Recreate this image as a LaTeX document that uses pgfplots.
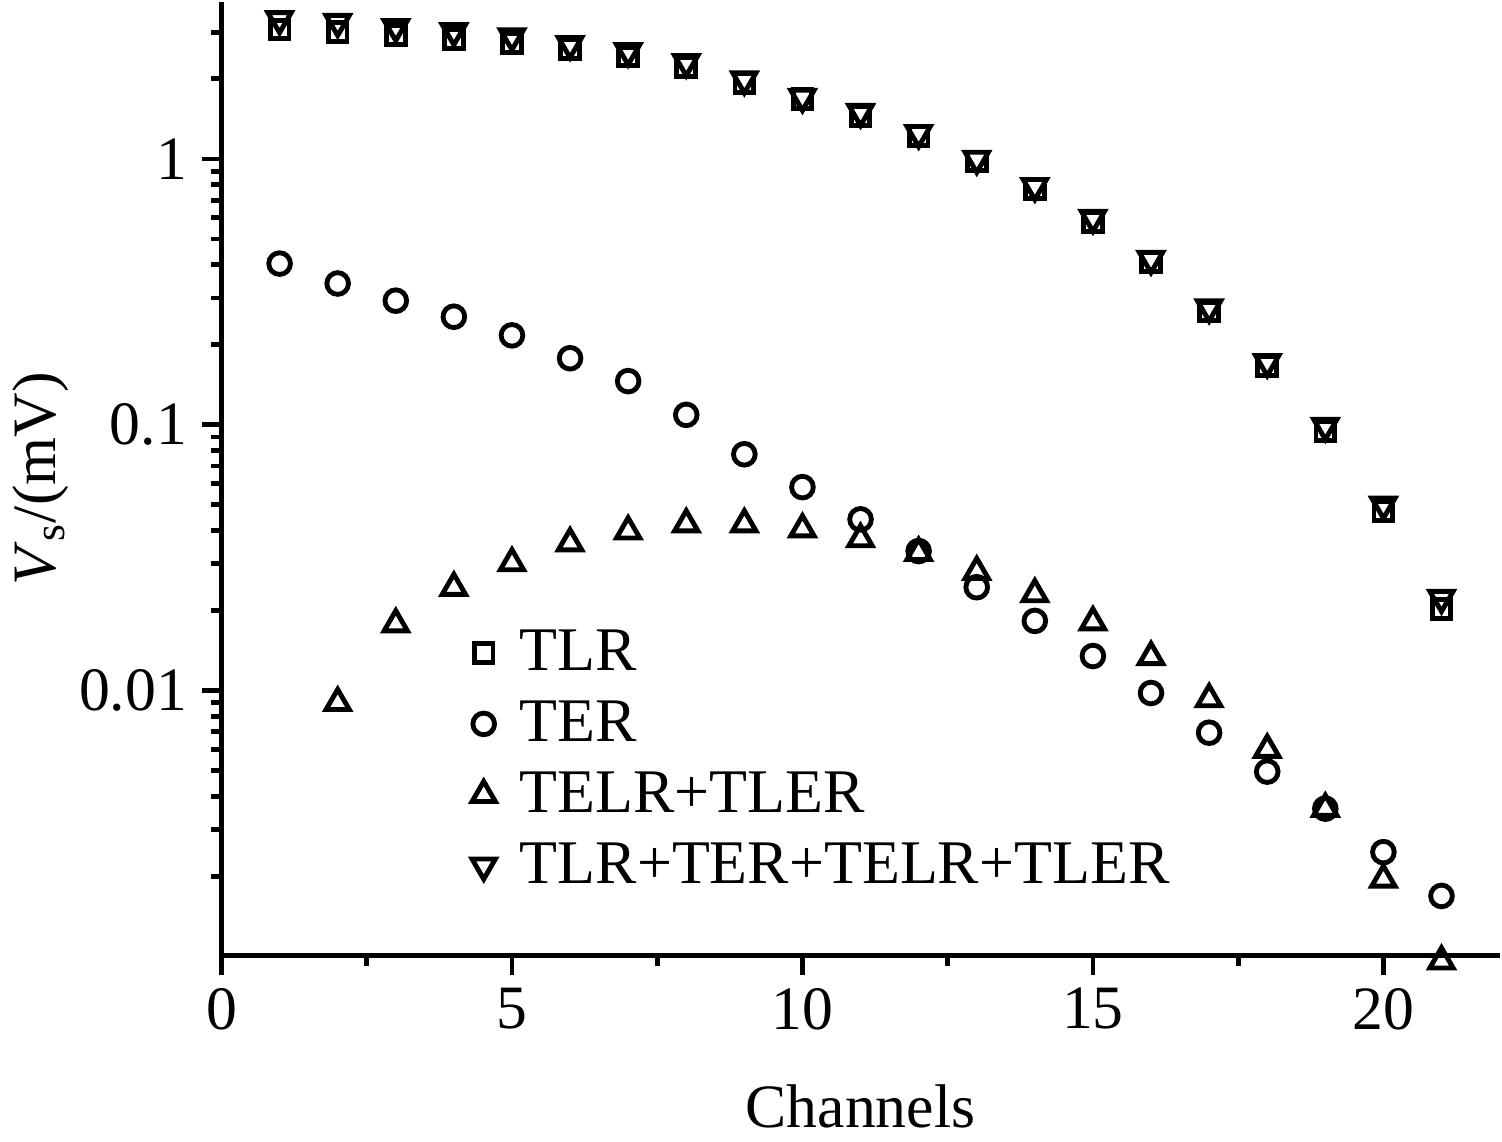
\documentclass[border=0pt]{standalone}
\usepackage{fontspec}
\setmainfont{Liberation Serif}
\usepackage{pgfplots}
\pgfplotsset{compat=1.18}

\pgfplotstableread{
ch TLR TER TELR SUM
1 3.07 0.404 nan 3.35
2 3.00 0.340 0.0090 3.27
3 2.92 0.293 0.0178 3.13
4 2.82 0.255 0.0244 3.02
5 2.72 0.217 0.0302 2.89
6 2.59 0.178 0.0359 2.70
7 2.43 0.146 0.0398 2.54
8 2.21 0.109 0.0423 2.31
9 1.93 0.0775 0.0423 1.99
10 1.68 0.0583 0.0405 1.71
11 1.45 0.0441 0.0372 1.50
12 1.22 0.0335 0.0330 1.25
13 0.98 0.0245 0.0280 1.00
14 0.77 0.0183 0.0231 0.79
15 0.58 0.0135 0.0181 0.60
16 0.41 0.0098 0.0134 0.42
17 0.267 0.00695 0.0093 0.276
18 0.166 0.00496 0.0060 0.172
19 0.0946 0.0036 0.0036 0.099
20 0.0473 0.00247 0.00195 0.050
21 0.0203 0.00169 0.00096 0.0223
}\data

\begin{document}
\begin{tikzpicture}
\begin{axis}[
    ymode=log,
    width=342pt, height=255pt,
    scale only axis,
    xmin=0, xmax=22,
    ymin=0.00101, ymax=3.88,
    clip=false,
    axis x line*=bottom,
    axis y line*=left,
    axis line style={line width=1.3pt},
    xtick={0,5,10,15,20},
    minor xtick={2.5,7.5,12.5,17.5},
    ytick={0.01,0.1,1},
    yticklabels={0.01,0.1,1},
    minor ytick={0.002,0.003,0.004,0.005,0.006,0.007,0.008,0.009,
                 0.02,0.03,0.04,0.05,0.06,0.07,0.08,0.09,
                 0.2,0.3,0.4,0.5,0.6,0.7,0.8,0.9,2,3},
    tick align=outside,
    major tick length=5.2pt,
    minor tick length=2.8pt,
    every tick/.style={line width=1.3pt, black},
    tick label style={font=\fontsize{16.5}{19}\selectfont},
    /pgf/number format/assume math mode=true,
    xticklabel style={yshift=0pt},
    yticklabel style={xshift=-0.5pt},
    label style={font=\fontsize{16.5}{19}\selectfont},
    xlabel={Channels},
    ylabel={\textit{V}\textsubscript{s}/(mV)},
    xlabel style={yshift=-8pt},
    ylabel style={yshift=-4pt},
    legend style={draw=none, fill=none, at={(0.185,0.358)}, anchor=north west,
        font=\fontsize{16.6}{19}\selectfont, row sep=2.6pt,
        /tikz/every even column/.append style={column sep=0pt}},
    legend cell align=left,
    legend image code/.code={\path[draw=none, fill=none] (0cm,0cm) -- (0.40cm,0cm);
        \draw[#1] plot coordinates {(0.13cm,0cm)};},
    every axis plot/.append style={only marks, black, line width=1.3pt},
]
\addplot[mark=square, mark size=2.5pt] table[x=ch, y=TLR] {\data};
\addplot[mark=o, mark size=2.9pt] table[x=ch, y=TER] {\data};
\addplot[mark=triangle, mark size=3.6pt] table[x=ch, y=TELR] {\data};
\addplot[mark=triangle, mark size=3.6pt, mark options={rotate=180}] table[x=ch, y=SUM] {\data};
\legend{TLR, TER, TELR+TLER, TLR+TER+TELR+TLER}
\end{axis}
\end{tikzpicture}
\end{document}
